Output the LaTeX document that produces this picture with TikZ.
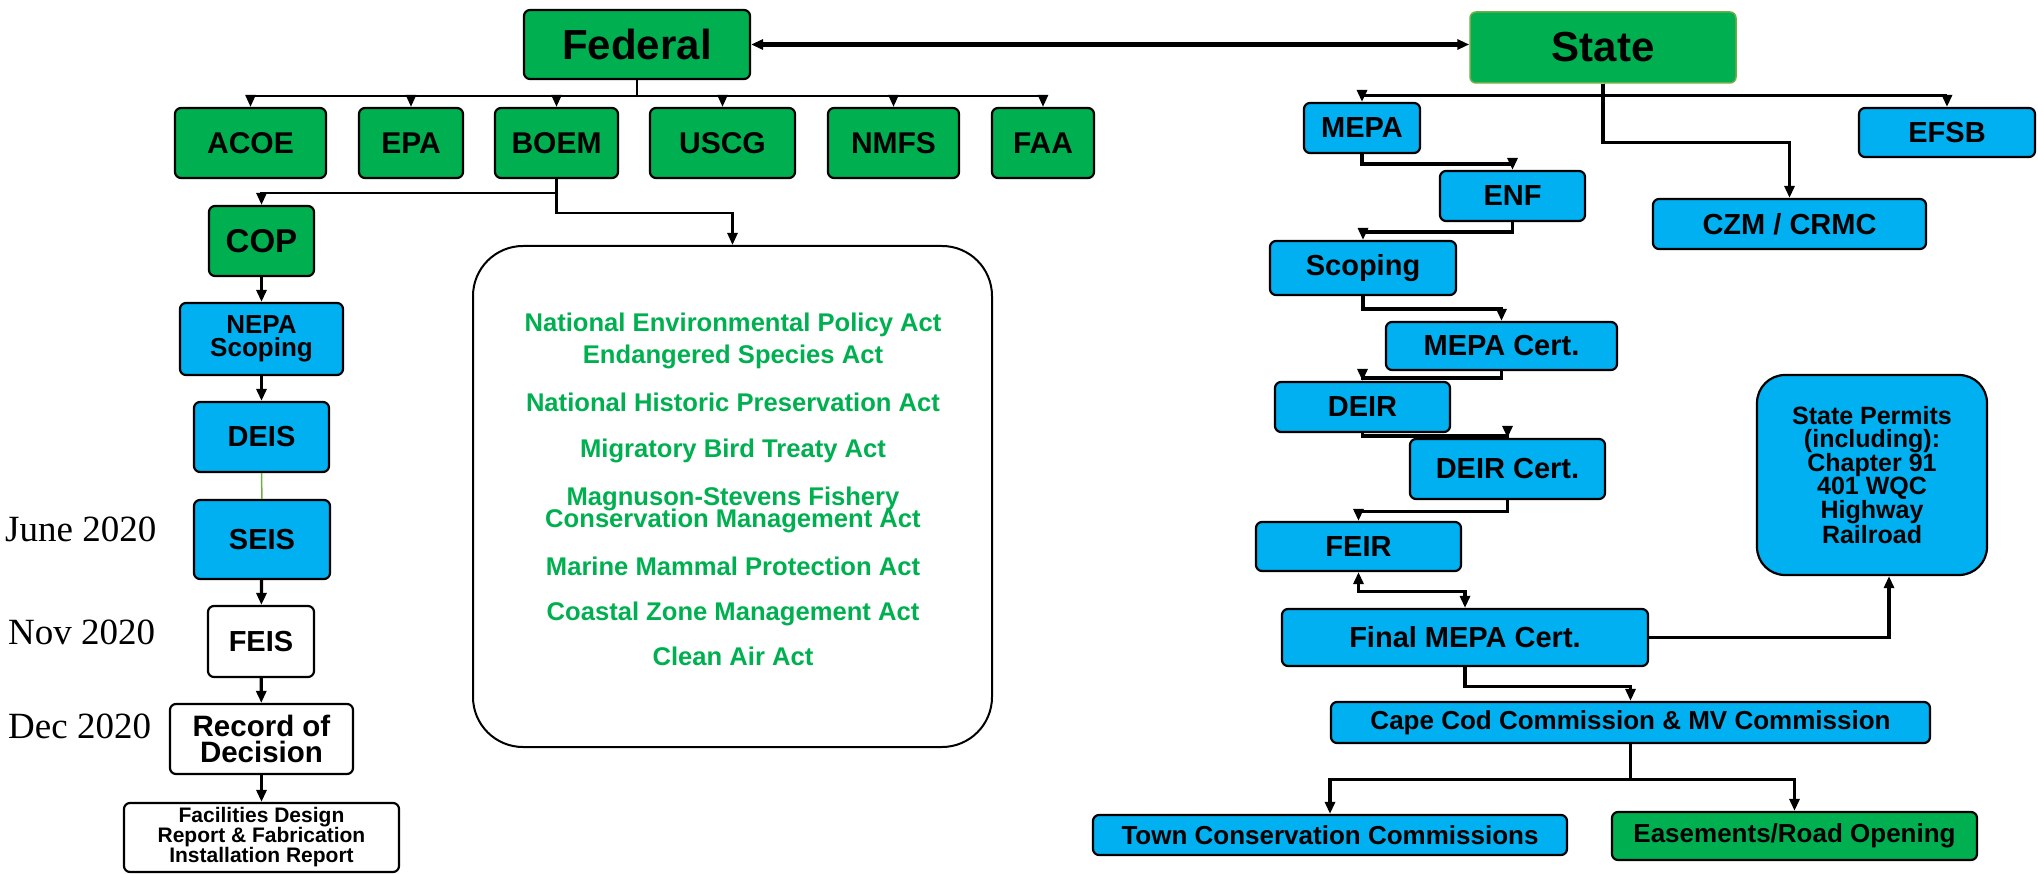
\documentclass[tikz,border=0pt]{standalone}
\usepackage{fontspec}
\setmainfont{Liberation Sans}
\newfontfamily\datefont{Liberation Serif}
\usetikzlibrary{arrows.meta}
\definecolor{fgreen}{HTML}{00B050}
\definecolor{fblue}{HTML}{00B0F0}
\definecolor{lgreen}{HTML}{70AD47}
\begin{document}
\begin{tikzpicture}[x=1pt,y=-1pt,
  box/.style={draw=black, line width=2.2pt, rounded corners=6pt, inner sep=0pt, align=center},
  gbox/.style={box, fill=fgreen},
  bbox/.style={box, fill=fblue},
  wbox/.style={box, fill=white},
  wh/.style 2 args={minimum width=#1pt, minimum height=#2pt},
  fsz/.style={font=\bfseries\fontsize{#1}{#1}\selectfont},
  fszl/.style 2 args={font=\bfseries\fontsize{#1}{#2}\selectfont},
  actt/.style={font=\bfseries\fontsize{25.6}{25.6}\selectfont, text=fgreen, inner sep=0pt, anchor=base},
  datet/.style={font=\datefont\fontsize{37}{37}\selectfont, inner sep=0pt, anchor=base west},
  arr/.style={line width=#1pt, -{Triangle[length=12pt,width=10pt]}},
  arr/.default=3.2,
  darr/.style={line width=#1pt, {Triangle[length=12pt,width=10pt]}-{Triangle[length=12pt,width=10pt]}},
  darr/.default=3.2,
]
\useasboundingbox (0,0) rectangle (2038,874);

% ---------- Federal side ----------
\node[gbox, wh={226}{69}, fsz=42] (fed) at (637,44.5) {Federal};
\node[gbox, wh={151}{70}, fsz=30] (acoe) at (250.5,143) {ACOE};
\node[gbox, wh={104}{70}, fsz=30] (epa) at (411,143) {EPA};
\node[gbox, wh={123}{70}, fsz=30] (boem) at (556.5,143) {BOEM};
\node[gbox, wh={145}{70}, fsz=30] (uscg) at (722.5,143) {USCG};
\node[gbox, wh={131}{70}, fsz=30] (nmfs) at (893.5,143) {NMFS};
\node[gbox, wh={102}{70}, fsz=30] (faa) at (1043,143) {FAA};

\node[gbox, wh={105}{70}, fsz=33] (cop) at (261.5,241) {COP};
\node[bbox, wh={163}{72}, fszl={26}{23.5}] (nepa) at (261.5,339) {NEPA\\Scoping};
\node[bbox, wh={135}{70}, fsz=29] (deis) at (261.5,437) {DEIS};
\node[bbox, wh={136}{79}, fsz=29] (seis) at (262,539.5) {SEIS};
\node[wbox, wh={106}{71}, fsz=29] (feis) at (261,641.5) {FEIS};
\node[wbox, wh={183}{70}, fszl={29.5}{26.5}] (rod) at (261.5,739) {Record of\\Decision};
\node[wbox, wh={275}{69}, fszl={21}{20}] (fdr) at (261.5,837.5) {Facilities Design\\Report \& Fabrication\\Installation Report};

\node[datet] (d1) at (5,541) {June 2020};
\node[datet] (d2) at (8,644) {Nov 2020};
\node[datet] (d3) at (8,738) {Dec 2020};

\node[draw=black, line width=2pt, rounded corners=50pt, wh={519}{501}] (acts) at (732.5,496.5) {};
\node[actt] (a1) at (733,332) {National Environmental Policy Act};
\node[actt] (a2) at (733,364) {Endangered Species Act};
\node[actt] (a3) at (733,412) {National Historic Preservation Act};
\node[actt] (a4) at (733,457) {Migratory Bird Treaty Act};
\node[actt] (a5) at (733,505) {Magnuson-Stevens Fishery};
\node[actt] (a6) at (733,527) {Conservation Management Act};
\node[actt] (a7) at (733,575) {Marine Mammal Protection Act};
\node[actt] (a8) at (733,620) {Coastal Zone Management Act};
\node[actt] (a9) at (733,665) {Clean Air Act};

% ---------- State side ----------
\node[box, fill=fgreen, draw=lgreen, line width=1.5pt, wh={266}{71}, fsz=42] (state) at (1603,47.5) {State};
\node[bbox, wh={116}{50}, fsz=29] (mepa) at (1362,128) {MEPA};
\node[bbox, wh={176}{49}, fsz=29] (efsb) at (1947,132.5) {EFSB};
\node[bbox, wh={145}{50}, fsz=29] (enf) at (1512.5,196) {ENF};
\node[bbox, wh={273}{50}, fsz=29] (czm) at (1789.5,224) {CZM / CRMC};
\node[bbox, wh={186}{54}, fsz=29] (scop) at (1363,268) {Scoping};
\node[bbox, wh={231}{48}, fsz=29] (mcert) at (1501.5,346) {MEPA Cert.};
\node[bbox, wh={175}{50}, fsz=29] (deir) at (1362.5,407) {DEIR};
\node[bbox, wh={195}{60}, fsz=29] (dcert) at (1507.5,469) {DEIR Cert.};
\node[bbox, wh={205}{49}, fsz=29] (feir) at (1358.5,546.5) {FEIR};
\node[bbox, wh={366}{57}, fsz=29] (final) at (1465,637.5) {Final MEPA Cert.};
\node[bbox, rounded corners=28pt, wh={230}{200}, fszl={25}{23}] (perm) at (1872,475) {State Permits\\(including):\\Chapter 91\\401 WQC\\Highway\\Railroad};
\node[bbox, wh={599}{41}, fsz=26] (cape) at (1630.5,722.5) {Cape Cod Commission \& MV Commission};
\node[bbox, wh={474}{40}, fsz=26] (town) at (1330,835) {Town Conservation Commissions};
\node[gbox, wh={365}{48}, fsz=26] (ease) at (1794.5,836) {Easements/Road Opening};

% ---------- Connectors ----------
\draw[darr=4.2] (fed.east) -- (fed.east -| state.west);

\foreach \n in {acoe,epa,boem,uscg,nmfs,faa}
  \draw[arr=2.5] (fed.south) -- ++(0,16) -| (\n.north);
\draw[arr=2.8] (boem.south) -- ++(0,14) -| (cop.north);
\draw[arr=2.5] (boem.south) -- ++(0,34) -| (acts.north);

\draw[arr] (cop) -- (nepa);
\draw[arr] (nepa) -- (deis);
\draw[lgreen, line width=1.5pt] (deis) -- (seis);
\draw[arr] (seis) -- (feis);
\draw[arr] (feis) -- (rod);
\draw[arr] (rod) -- (fdr);

\draw[arr] (state.south) -- ++(0,12) -| (mepa.north);
\draw[arr] (state.south) -- ++(0,12) -| (efsb.north);
\draw[arr] (state.south) -- ++(0,59) -| (czm.north);
\draw[arr] (mepa.south) -- ++(0,10) -| (enf.north);
\draw[arr] (enf.south) -- ++(0,10) -| (scop.north);
\draw[arr] (scop.south) -- ++(0,13) -| (mcert.north);
\draw[arr] (mcert.south) -- ++(0,7) -| (deir.north);
\draw[arr] (deir.south) -- ++(0,3) -| (dcert.north);
\draw[arr] (dcert.south) -- ++(0,11) -| (feir.north);
\draw[darr] (feir.south) -- ++(0,19) -| (final.north);
\draw[arr] (final.south) -- ++(0,19) -| (cape.north);
\draw[arr] (final.east) -| ([xshift=17pt]perm.south);
\draw[arr] (cape.south) -- ++(0,35) -| (town.north);
\draw[arr] (cape.south) -- ++(0,35) -| (ease.north);
\end{tikzpicture}
\end{document}
